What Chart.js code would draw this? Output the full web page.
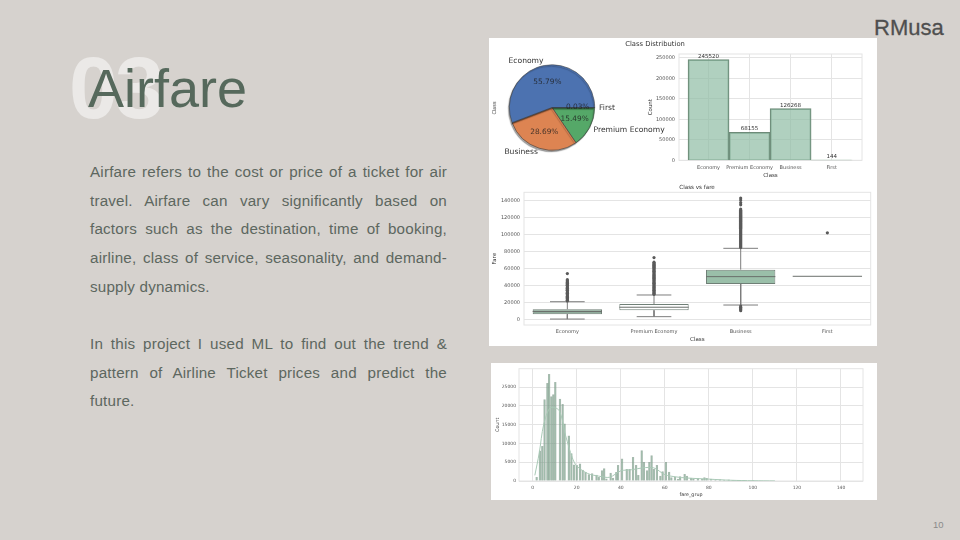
<!DOCTYPE html>
<html>
<head>
<meta charset="utf-8">
<title>Airfare</title>
<script src="https://cdn.jsdelivr.net/npm/chart.js@4"></script>
<style>
  html, body { margin: 0; padding: 0; }
  body { width: 960px; height: 540px; background: #d6d2ce; position: relative; overflow: hidden;
         font-family: "Liberation Sans", Arial, sans-serif; }
  .abs { position: absolute; white-space: nowrap; }
  .panel { position: absolute; background: #fff; }
  canvas { position: absolute; filter: blur(0.4px); }
  #num { left: 69px; top: 38px; font-size: 88px; font-weight: bold; line-height: 100px; letter-spacing: -3px; color: #ebe9e7; }
  #head { left: 88px; top: 57px; font-size: 54px; line-height: 62px; color: #56695c; }
  #brand { left: 874px; top: 15px; font-size: 22px; line-height: 26px; color: #4f4f4f; -webkit-text-stroke: 0.3px #4f4f4f; }
  #page { left: 933px; top: 519px; font-size: 9.5px; line-height: 12px; color: #8a8a8a; }
  .body { position: absolute; left: 90px; width: 357px; font-size: 15.2px; letter-spacing: 0.2px; line-height: 28.7px; color: #5d675f; }
  .body div { text-align: justify; text-align-last: justify; white-space: nowrap; }
  .body div.last { text-align-last: left; }
  .figtitle { font-family: "DejaVu Sans", sans-serif; color: #333; transform: translateX(-50%); }
</style>
</head>
<body>
<div class="abs" id="num">03</div>
<div class="abs" id="head">Airfare</div>
<div class="abs" id="brand">RMusa</div>
<div class="abs" id="page">10</div>

<div class="body" style="top:158px">
  <div>Airfare refers to the cost or price of a ticket for air</div>
  <div>travel. Airfare can vary significantly based on</div>
  <div>factors such as the destination, time of booking,</div>
  <div>airline, class of service, seasonality, and demand-</div>
  <div class="last">supply dynamics.</div>
</div>
<div class="body" style="top:330px">
  <div>In this project I used ML to find out the trend &amp;</div>
  <div>pattern of Airline Ticket prices and predict the</div>
  <div class="last">future.</div>
</div>

<div class="panel" style="left:489px;top:38px;width:388px;height:308px"></div>
<div class="panel" style="left:491px;top:363px;width:386px;height:137px"></div>

<canvas id="countChart" width="237" height="145" style="left:640px;top:38px"></canvas>
<canvas id="pieChart" width="190" height="140" style="left:489px;top:38px"></canvas>
<canvas id="boxChart" width="388" height="166" style="left:489px;top:180px"></canvas>
<canvas id="histChart" width="386" height="137" style="left:491px;top:363px"></canvas>

<div class="abs figtitle" style="left:655px;top:40px;font-size:6.8px;line-height:8px">Class Distribution</div>
<div class="abs figtitle" style="left:697px;top:184px;font-size:5.6px;line-height:7px">Class vs fare</div>

<script>
// Counts per class
const classNames = ['Economy', 'Premium Economy', 'Business', 'First'];
const classCounts = [245520, 68155, 126268, 144];
const pieOrder = ['First', 'Premium Economy', 'Business', 'Economy'];
const pieCounts = [144, 68155, 126268, 245520];
const pieColors = ['#c44e52', '#55a868', '#dd8452', '#4c72b0'];
const countTicks = [0, 50000, 100000, 150000, 200000, 250000];

// Box plot stats
const boxQ1 = [6800, 11400, 42400, 51400];
const boxMedian = [10000, 15000, 51000, 51400];
const boxQ3 = [12600, 18800, 59200, 51400];
const whiskerLow = [1100, 3900, 17600, 51400];
const whiskerHigh = [21500, 29400, 84300, 51400];
const boxColors = ['#8fac9b', '#ffffff', '#9abfa9', '#ffffff'];
const economyOutliers = [22400, 23200, 23900, 25200, 26000, 26800, 27600, 28300, 29700, 30500, 31400, 32100, 32900, 34300, 35000, 35800, 37200, 38000, 38900, 40300, 41000, 41800, 43200, 44000, 44900, 46200, 47400, 54600];
const premiumOutliers = [30200, 31100, 32000, 33000, 34100, 35000, 36000, 37100, 38200, 39000, 40100, 41200, 42300, 43100, 44000, 45000, 46200, 47100, 48100, 49200, 50300, 51200, 52200, 53100, 54100, 55200, 56300, 57100, 58000, 59100, 60200, 61100, 62100, 63200, 64300, 65100, 66000, 67000, 68000, 73400];
const businessOutliers = [11000, 12400, 13600, 15000, 16400, 85200, 86300, 87500, 88700, 90000, 91200, 92300, 93500, 94800, 96000, 97000, 98200, 99500, 100600, 101800, 103000, 104200, 105300, 106500, 107800, 109000, 110200, 111300, 112500, 113800, 115000, 116000, 117200, 118500, 119700, 120900, 122000, 123200, 124500, 125700, 126800, 128000, 129200, 130500, 135500, 138000, 141000, 143500];
const firstOutliers = [102500];
const fareTicks = [0, 20000, 40000, 60000, 80000, 100000, 120000, 140000];

// Histogram of fare_grup
const histBins = [1.8, 3.3, 4.4, 5.4, 6.7, 7.5, 8.5, 9.4, 10.3, 12.4, 13.6, 14.5, 16.4, 17.6, 18.8, 20, 21.5, 22.7, 24, 25.5, 27, 29, 30, 31.5, 32.5, 33.5, 35.4, 36.5, 38, 38.8, 40.6, 42.7, 44, 45.6, 47, 48, 49.5, 50.5, 52, 53, 54, 55, 56.4, 58, 59, 60.5, 62, 63, 64.6, 66, 67, 69, 70, 72, 73, 75, 77, 78, 79, 81, 83, 85, 87, 89, 91, 93, 96, 100];
const histCounts = [1000, 8000, 9200, 21700, 26000, 28400, 22500, 23000, 26300, 21800, 20400, 15200, 12000, 7300, 4300, 4200, 4600, 2900, 2300, 1700, 2000, 1600, 1000, 2800, 3300, 600, 2100, 800, 2300, 4200, 5900, 3100, 3100, 6300, 4200, 1500, 8100, 5000, 2800, 5000, 6800, 3100, 4200, 1300, 2500, 5000, 2400, 900, 1100, 500, 1200, 1800, 1300, 800, 600, 700, 500, 900, 700, 500, 300, 400, 250, 300, 150, 120, 100, 60];
const kdeX = [1, 3, 5, 8, 12, 15, 18, 20, 25, 30, 35, 40, 45, 50, 55, 60, 65, 70, 80, 90, 100, 110];
const kdeY = [1500, 7500, 15000, 19500, 18800, 12000, 6200, 4000, 2000, 1300, 1000, 2700, 3000, 3500, 3500, 1700, 1100, 800, 500, 200, 70, 10];
const histXTicks = [0, 20, 40, 60, 80, 100, 120, 140];
const histYTicks = [0, 5000, 10000, 15000, 20000, 25000];

const gridColor = '#e4e4e4';
const tickColor = '#555';
const dejavu = 'DejaVu Sans';

// Plot frame on all four sides, like the seaborn whitegrid style
const framePlugin = {
    id: 'frame',
    beforeDatasetsDraw(chart) {
        const a = chart.chartArea;
        const ctx = chart.ctx;
        ctx.save();
        ctx.strokeStyle = gridColor;
        ctx.lineWidth = 1;
        ctx.strokeRect(a.left, a.top, a.right - a.left, a.bottom - a.top);
        ctx.restore();
    }
};

function axis(size, ticks, extra) {
    // fixed axis size so the plot area lands where it does in the picture
    return Object.assign({
        type: 'linear',
        offset: false,
        afterBuildTicks(s) { s.ticks = ticks.map(v => ({ value: v })); },
        afterFit(s) {
            if (s.isHorizontal()) s.height = size; else s.width = size;
        },
        grid: { color: gridColor, drawTicks: false, offset: false },
        border: { display: false }
    }, extra);
}

function tickStyle(px, extra) {
    return Object.assign({
        font: { family: dejavu, size: px },
        color: tickColor,
        autoSkip: false,
        maxRotation: 0,
        includeBounds: false
    }, extra);
}

function axisTitle(text, px, pad) {
    return { display: true, text: text, color: '#333', font: { family: dejavu, size: px }, padding: pad };
}

const baseOptions = {
    responsive: false,
    animation: false,
    plugins: { legend: { display: false }, tooltip: { enabled: false } }
};

// Pie
const piePlugin = {
    id: 'pieLabels',
    beforeDatasetsDraw(chart) {
        chart.ctx.save();
        chart.ctx.shadowColor = 'rgba(0,0,0,0.35)';
        chart.ctx.shadowOffsetX = -1;
        chart.ctx.shadowOffsetY = 1.5;
        chart.ctx.shadowBlur = 1;
    },
    afterDatasetsDraw(chart) {
        const ctx = chart.ctx;
        ctx.restore();
        const total = pieCounts.reduce((a, b) => a + b, 0);
        chart.getDatasetMeta(0).data.forEach((arc, i) => {
            const mid = (arc.startAngle + arc.endAngle) / 2;
            const c = Math.cos(mid), s = Math.sin(mid);
            ctx.font = '7.6px "DejaVu Sans"';
            ctx.fillStyle = '#333';
            ctx.textBaseline = 'middle';
            ctx.textAlign = c < 0 ? 'right' : 'left';
            ctx.fillText(pieOrder[i], arc.x + c * arc.outerRadius * 1.1, arc.y + s * arc.outerRadius * 1.1);
            ctx.font = '7.4px "DejaVu Sans"';
            ctx.fillStyle = 'rgba(30,30,30,0.8)';
            ctx.textAlign = 'center';
            ctx.fillText((pieCounts[i] / total * 100).toFixed(2) + '%', arc.x + c * arc.outerRadius * 0.6, arc.y + s * arc.outerRadius * 0.6);
        });
        ctx.save();
        ctx.translate(5.5, 70);
        ctx.rotate(-Math.PI / 2);
        ctx.font = '5px "DejaVu Sans"';
        ctx.fillStyle = '#333';
        ctx.textAlign = 'center';
        ctx.fillText('Class', 0, 0);
        ctx.restore();
    }
};

new Chart(document.getElementById('pieChart'), {
    type: 'pie',
    data: {
        labels: pieOrder,
        datasets: [{ data: pieCounts, backgroundColor: pieColors, borderColor: '#3a3a3a', borderWidth: 0.6 }]
    },
    options: Object.assign({}, baseOptions, {
        rotation: 90,
        layout: { padding: { left: 20, right: 84, top: 26.5, bottom: 27.5 } }
    }),
    plugins: [piePlugin]
});

// Count bars
const countLabels = {
    id: 'countLabels',
    afterDatasetsDraw(chart) {
        const ctx = chart.ctx;
        ctx.save();
        ctx.font = '5.5px "DejaVu Sans"';
        ctx.fillStyle = '#333';
        ctx.textAlign = 'center';
        ctx.textBaseline = 'bottom';
        chart.getDatasetMeta(0).data.forEach((bar, i) => {
            ctx.fillText(classCounts[i], bar.x, bar.y - 0.5);
        });
        ctx.restore();
    }
};

new Chart(document.getElementById('countChart'), {
    type: 'bar',
    data: {
        datasets: [{
            data: classCounts.map((v, i) => ({ x: i, y: v })),
            backgroundColor: 'rgba(143,188,164,0.7)',
            borderColor: '#6d8a78',
            borderWidth: 1.1,
            barPercentage: 1,
            categoryPercentage: 1
        }]
    },
    options: Object.assign({}, baseOptions, {
        layout: { padding: { top: 16, right: 15 } },
        scales: {
            x: axis(22.7, [0, 1, 2, 3], {
                min: -0.72, max: 3.74,
                ticks: tickStyle(5, { padding: 4, callback: v => classNames[v] }),
                title: axisTitle('Class', 5.5, { top: 1, bottom: 4 })
            }),
            y: axis(39, countTicks, {
                min: 0, max: 259000,
                ticks: tickStyle(5, { padding: 4 , callback: v => v }),
                title: axisTitle('Count', 5.5, { top: 7, bottom: 0 })
            })
        }
    }),
    plugins: [framePlugin, countLabels]
});

// Box plot, built from floating bars plus line segments
function segment(x1, y1, x2, y2, color, width) {
    return {
        type: 'scatter', showLine: true, order: 1, pointRadius: 0,
        data: [{ x: x1, y: y1 }, { x: x2, y: y2 }],
        borderColor: color, borderWidth: width
    };
}

const boxDatasets = [{
    type: 'bar', order: 2,
    data: classNames.map((_, i) => ({ x: i, y: [boxQ1[i], boxQ3[i]] })),
    backgroundColor: boxColors,
    borderColor: '#6f7f76',
    borderWidth: 1,
    borderSkipped: false,
    barPercentage: 0.8,
    categoryPercentage: 1
}];

classNames.forEach((_, i) => {
    boxDatasets.push(segment(i, boxQ1[i], i, whiskerLow[i], '#7d7d7d', 1));
    boxDatasets.push(segment(i, boxQ3[i], i, whiskerHigh[i], '#7d7d7d', 1));
    if (i < 3) {
        boxDatasets.push(segment(i - 0.2, whiskerLow[i], i + 0.2, whiskerLow[i], '#7d7d7d', 1));
        boxDatasets.push(segment(i - 0.2, whiskerHigh[i], i + 0.2, whiskerHigh[i], '#7d7d7d', 1));
    }
    boxDatasets.push(segment(i - 0.4, boxMedian[i], i + 0.4, boxMedian[i], '#6a6f6b', 1));
});

[economyOutliers, premiumOutliers, businessOutliers, firstOutliers].forEach((list, i) => {
    boxDatasets.push({
        type: 'scatter', order: 0,
        data: list.map(v => ({ x: i, y: v })),
        pointRadius: 1.6, pointBackgroundColor: '#5a5a5a', pointBorderWidth: 0
    });
});

new Chart(document.getElementById('boxChart'), {
    type: 'bar',
    data: { datasets: boxDatasets },
    options: Object.assign({}, baseOptions, {
        layout: { padding: { top: 12.3, right: 6.3 } },
        scales: {
            x: axis(21, [0, 1, 2, 3], {
                min: -0.5, max: 3.5,
                grid: { display: false, drawTicks: false },
                ticks: tickStyle(5, { padding: 4, callback: v => classNames[v] }),
                title: axisTitle('Class', 5.5, { top: 1, bottom: 3 })
            }),
            y: axis(35, fareTicks, {
                min: -5900, max: 150200,
                ticks: tickStyle(5, { padding: 4, callback: v => v }),
                title: axisTitle('Fare', 5.5, { top: 2, bottom: 0 })
            })
        }
    }),
    plugins: [framePlugin]
});

// Histogram with density line
new Chart(document.getElementById('histChart'), {
    type: 'bar',
    data: {
        datasets: [{
            type: 'scatter', showLine: true, order: 1, pointRadius: 0, tension: 0.3,
            data: kdeX.map((x, i) => ({ x: x, y: kdeY[i] })),
            borderColor: '#a9c9b6', borderWidth: 1
        }, {
            type: 'bar', order: 2,
            data: histBins.map((x, i) => ({ x: x, y: histCounts[i] })),
            backgroundColor: 'rgba(143,180,158,0.6)',
            borderColor: 'rgba(100,125,110,0.5)',
            borderWidth: 0.5,
            barThickness: 1.8
        }]
    },
    options: Object.assign({}, baseOptions, {
        layout: { padding: { top: 4, right: 14 } },
        scales: {
            x: axis(19, histXTicks, {
                min: -6.2, max: 150,
                ticks: tickStyle(4.5, { padding: 4, callback: v => v }),
                title: axisTitle('fare_grup', 4.8, { top: 1, bottom: 2 })
            }),
            y: axis(28, histYTicks, {
                min: 0, max: 29900,
                ticks: tickStyle(4.5, { padding: 3, callback: v => v }),
                title: axisTitle('Count', 4.8, { top: 4, bottom: 0 })
            })
        }
    }),
    plugins: [framePlugin]
});
</script>
</body>
</html>
